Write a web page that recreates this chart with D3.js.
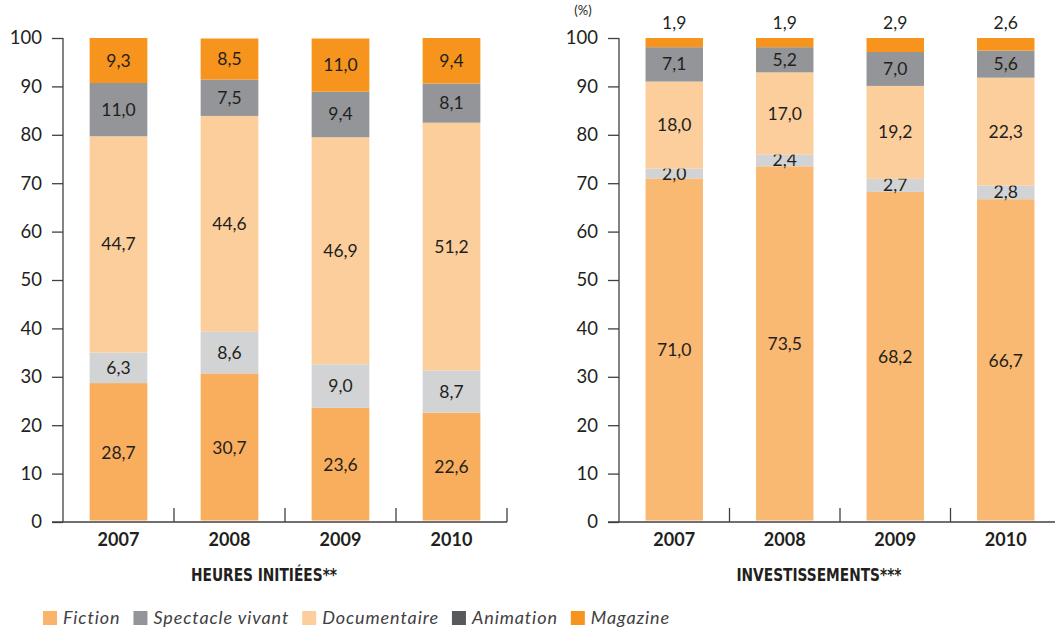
<!DOCTYPE html>
<html>
<head>
<meta charset="utf-8">
<script src="https://cdn.jsdelivr.net/npm/d3@7"></script>
<style>
  body { margin: 0; background: #fff; }
  svg text { font-family: Lato, "Open Sans", sans-serif; fill: #231f20; }
  .year { font-weight: bold; font-size: 18px; }
  .title { font-family: "Liberation Sans Narrow", "DejaVu Sans Condensed", Roboto, sans-serif; font-weight: bold; font-size: 17px; }
  .legend text { font-style: italic; font-size: 18px; letter-spacing: 0.9px; fill: #414042; }
</style>
</head>
<body>
<svg id="chart" width="1055" height="628"></svg>
<script>
// data
var years = ["2007", "2008", "2009", "2010"];
var keys = ["fiction", "spectacle", "documentaire", "animation", "magazine"];
var legend_labels = ["Fiction", "Spectacle vivant", "Documentaire", "Animation", "Magazine"];

var heures_fiction = [28.7, 30.7, 23.6, 22.6];
var heures_spectacle = [6.3, 8.6, 9.0, 8.7];
var heures_documentaire = [44.7, 44.6, 46.9, 51.2];
var heures_animation = [11.0, 7.5, 9.4, 8.1];
var heures_magazine = [9.3, 8.5, 11.0, 9.4];

var invest_fiction = [71.0, 73.5, 68.2, 66.7];
var invest_spectacle = [2.0, 2.4, 2.7, 2.8];
var invest_documentaire = [18.0, 17.0, 19.2, 22.3];
var invest_animation = [7.1, 5.2, 7.0, 5.6];
var invest_magazine = [1.9, 1.9, 2.9, 2.6];

var y_ticks = [0, 10, 20, 30, 40, 50, 60, 70, 80, 90, 100];

var svg = d3.select("#chart");

var make_rows = function(f, s, d, a, m) {
  return years.map((yr, i) => ({
    year: yr, fiction: f[i], spectacle: s[i], documentaire: d[i], animation: a[i], magazine: m[i]
  }));
};

var fmt = v => v.toFixed(1).replace(".", ",");

var draw_panel = function(opts) {
  let rows = opts.rows;
  let y = d3.scaleLinear().domain([0, 100]).range([522, 38]);
  let x = d3.scaleBand().domain(years).range([opts.x0, opts.x1]).padding(0);
  let bw = x.bandwidth() * 0.52;

  let g = svg.append("g");

  // y axis
  let yAxis = d3.axisLeft(y).tickValues(y_ticks).tickSize(11).tickPadding(10);
  let ya = g.append("g").attr("transform", "translate(" + opts.x0 + ",0)").call(yAxis);
  ya.select(".domain").attr("d", "M0," + y(0) + "V" + y(100)).attr("stroke", "#414042").attr("stroke-width", 1.3);
  ya.selectAll(".tick line").attr("stroke", "#414042").attr("stroke-width", 1.3);
  ya.selectAll(".tick text").attr("font-size", 18.5).attr("font-family", "Lato, sans-serif").attr("fill", "#231f20");

  // x axis line and separators
  g.append("line")
    .attr("x1", opts.x0 - 11).attr("x2", Math.min(opts.x1, 1055))
    .attr("y1", y(0)).attr("y2", y(0))
    .attr("stroke", "#414042").attr("stroke-width", 1.3);
  g.selectAll(".sep").data(years)
    .enter().append("line")
      .attr("x1", d => x(d) + x.bandwidth()).attr("x2", d => x(d) + x.bandwidth())
      .attr("y1", y(0)).attr("y2", y(0) - 14)
      .attr("stroke", "#414042").attr("stroke-width", 1.3);

  let series = d3.stack().keys(keys)(rows);

  let layers = g.selectAll(".layer").data(series)
    .enter().append("g")
      .attr("fill", (d, i) => opts.colors[i]);

  layers.selectAll("rect").data(d => d)
    .enter().append("rect")
      .attr("x", d => x(d.data.year) + (x.bandwidth() - bw) / 2)
      .attr("width", bw)
      .attr("y", d => y(d[1]))
      .attr("height", d => y(d[0]) - y(d[1]) - (d[0] === 0 ? 1.5 : 0));

  layers.each(function(s, si) {
    d3.select(this).selectAll("text").data(s)
      .enter().append("text")
        .attr("x", d => x(d.data.year) + x.bandwidth() / 2)
        .attr("y", d => {
          if (opts.top_outside && si === keys.length - 1) return y(d[1]) - 9;
          return (y(d[0]) + y(d[1])) / 2 + 6;
        })
        .attr("text-anchor", "middle")
        .attr("font-size", 17.5)
        .text(d => fmt(d[1] - d[0]));
  });

  // year labels
  g.selectAll(".year").data(years)
    .enter().append("text")
      .attr("class", "year")
      .attr("x", d => x(d) + x.bandwidth() / 2)
      .attr("y", 546)
      .attr("text-anchor", "middle")
      .text(d => d);

  // panel title, squeezed horizontally like a condensed face
  let cx = (opts.x0 + opts.x1) / 2 - 21;
  g.append("text")
    .attr("class", "title")
    .attr("transform", "translate(" + cx + ",581) scale(0.9,1)")
    .attr("text-anchor", "middle")
    .text(opts.title);
};

draw_panel({
  rows: make_rows(heures_fiction, heures_spectacle, heures_documentaire, heures_animation, heures_magazine),
  x0: 63, x1: 507,
  colors: ["#f9ae5d", "#d1d3d4", "#fcce9c", "#939598", "#f7941d"],
  title: "HEURES INITIÉES**",
  top_outside: false
});

draw_panel({
  rows: make_rows(invest_fiction, invest_spectacle, invest_documentaire, invest_animation, invest_magazine),
  x0: 619, x1: 1061,
  colors: ["#fab972", "#d1d3d4", "#fcce9c", "#939598", "#f7941d"],
  title: "INVESTISSEMENTS***",
  top_outside: true
});

// unit label at the top
svg.append("text")
  .attr("x", 583).attr("y", 15)
  .attr("text-anchor", "middle")
  .attr("font-size", 13)
  .text("(%)");

// legend
var legend_colors = ["#f9b36a", "#939598", "#fcce9c", "#58595b", "#f7941d"];
var lg = svg.append("g").attr("class", "legend");
var lx = 43;
legend_labels.forEach((lab, i) => {
  lg.append("rect")
    .attr("x", lx).attr("y", 611)
    .attr("width", 14).attr("height", 14)
    .attr("fill", legend_colors[i]);
  let t = lg.append("text")
    .attr("x", lx + 20).attr("y", 624)
    .text(lab);
  lx = lx + 20 + t.node().getComputedTextLength() + 13;
});
</script>
</body>
</html>
